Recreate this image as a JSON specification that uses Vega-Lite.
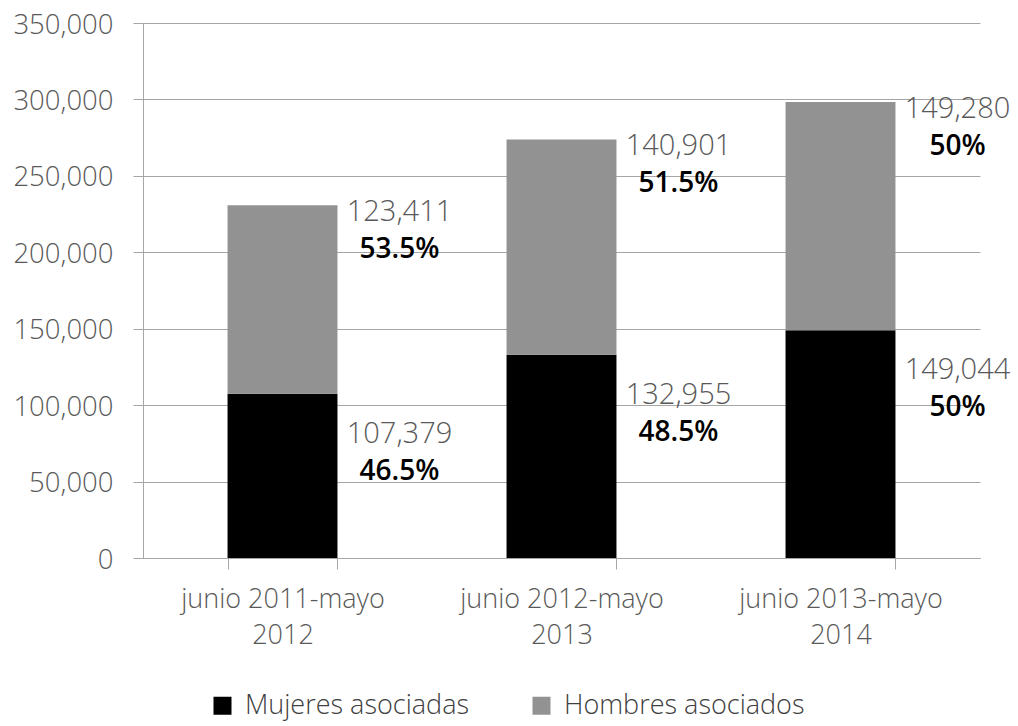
{
  "$schema": "https://vega.github.io/schema/vega-lite/v6.json",
  "width": 837,
  "height": 535,
  "autosize": {"type": "none"},
  "padding": {"left": 143, "top": 23, "right": 38, "bottom": 168},
  "background": "white",
  "config": {
    "view": {"stroke": null},
    "font": "Open Sans",
    "axis": {"labelFont": "Open Sans", "labelFontWeight": 300}
  },
  "data": {
    "values": [
      {"periodo": "junio 2011-mayo 2012", "serie": "Mujeres asociadas", "valor": 107379, "pct": "46.5%"},
      {"periodo": "junio 2011-mayo 2012", "serie": "Hombres asociados", "valor": 123411, "pct": "53.5%"},
      {"periodo": "junio 2012-mayo 2013", "serie": "Mujeres asociadas", "valor": 132955, "pct": "48.5%"},
      {"periodo": "junio 2012-mayo 2013", "serie": "Hombres asociados", "valor": 140901, "pct": "51.5%"},
      {"periodo": "junio 2013-mayo 2014", "serie": "Mujeres asociadas", "valor": 149044, "pct": "50%"},
      {"periodo": "junio 2013-mayo 2014", "serie": "Hombres asociados", "valor": 149280, "pct": "50%"}
    ]
  },
  "transform": [
    {"stack": "valor", "groupby": ["periodo"], "sort": [{"field": "serie", "order": "descending"}], "as": ["y0", "y1"]}
  ],
  "encoding": {
    "x": {
      "field": "periodo", "type": "nominal", "title": null,
      "scale": {"paddingInner": 0.606, "paddingOuter": 0.303},
      "axis": {
        "tickBand": "extent", "labelAngle": 0, "labelFontSize": 27, "labelColor": "#595959",
        "labelLineHeight": 36, "labelPadding": 17, "tickSize": 11, "labelLimit": 0,
        "tickColor": "#a6a6a6", "domainColor": "#a6a6a6", "labelBaseline": "top",
        "labelExpr": "[slice(datum.label, 0, 15), slice(datum.label, 16)]"
      }
    },
    "y": {
      "field": "y1", "type": "quantitative", "title": null,
      "scale": {"domain": [0, 350000]},
      "axis": {
        "values": [0, 50000, 100000, 150000, 200000, 250000, 300000, 350000],
        "labelExpr": "format(datum.value, ',')", "grid": true, "gridColor": "#a6a6a6", "tickColor": "#a6a6a6",
        "domainColor": "#a6a6a6", "tickSize": 10, "labelPadding": 20, "labelOffset": 2,
        "labelFontSize": 27.5, "labelColor": "#595959"
      }
    }
  },
  "layer": [
    {
      "mark": {"type": "bar"},
      "encoding": {
        "y2": {"field": "y0"},
        "color": {
          "field": "serie", "type": "nominal",
          "scale": {"domain": ["Mujeres asociadas", "Hombres asociados"], "range": ["#000000", "#929292"]},
          "legend": {
            "title": null, "orient": "none", "direction": "horizontal",
            "legendX": 66, "legendY": 669, "symbolType": "square", "symbolSize": 324,
            "symbolStrokeWidth": 0, "labelFontSize": 27, "labelColor": "#404040", "labelLimit": 0,
            "labelFont": "Open Sans", "labelFontWeight": 300, "columnPadding": 58, "labelOffset": 9
          }
        }
      }
    },
    {
      "transform": [{"filter": "datum.serie == 'Hombres asociados'"}],
      "mark": {"type": "text", "dx": 117, "dy": 7, "fontSize": 29, "fontWeight": 300, "color": "#595959", "baseline": "middle"},
      "encoding": {"text": {"field": "valor", "type": "quantitative", "format": ","}}
    },
    {
      "transform": [{"filter": "datum.serie == 'Hombres asociados'"}],
      "mark": {"type": "text", "dx": 117, "dy": 45, "fontSize": 28, "fontWeight": 600, "color": "#000000", "baseline": "middle"},
      "encoding": {"text": {"field": "pct", "type": "nominal"}}
    },
    {
      "transform": [{"filter": "datum.serie == 'Mujeres asociadas'"}],
      "mark": {"type": "text", "dx": 117, "dy": 40, "fontSize": 29, "fontWeight": 300, "color": "#595959", "baseline": "middle"},
      "encoding": {"text": {"field": "valor", "type": "quantitative", "format": ","}}
    },
    {
      "transform": [{"filter": "datum.serie == 'Mujeres asociadas'"}],
      "mark": {"type": "text", "dx": 117, "dy": 78, "fontSize": 28, "fontWeight": 600, "color": "#000000", "baseline": "middle"},
      "encoding": {"text": {"field": "pct", "type": "nominal"}}
    }
  ]
}
